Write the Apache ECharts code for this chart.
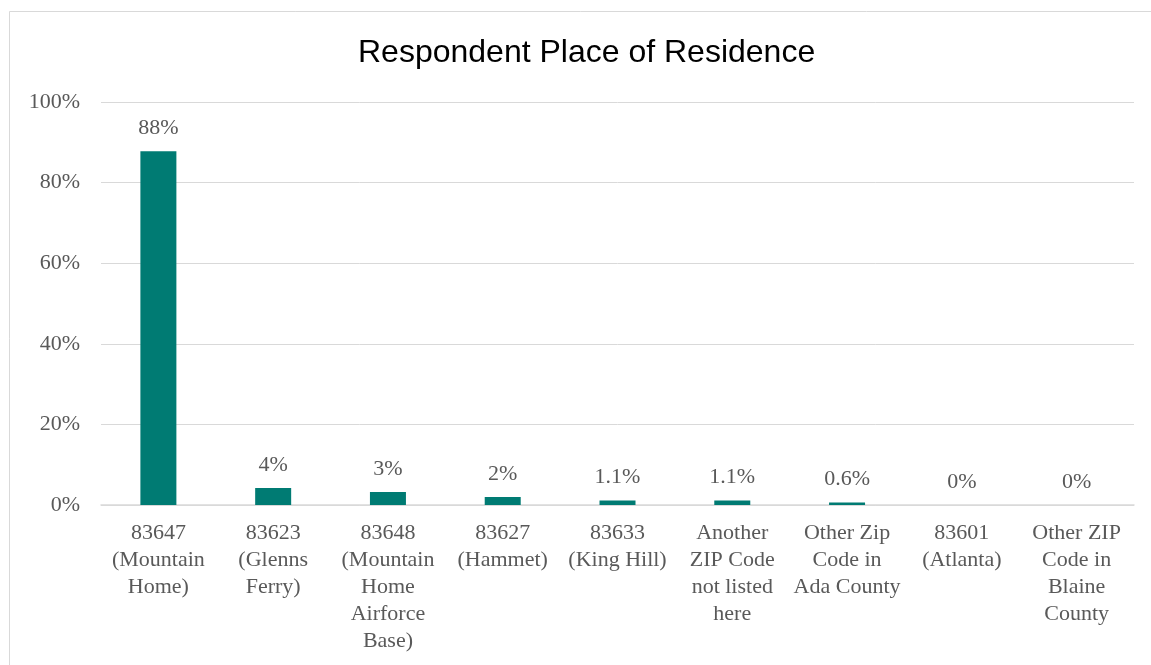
<!DOCTYPE html>
<html>
<head>
<meta charset="utf-8">
<script src="https://cdn.jsdelivr.net/npm/echarts@6/dist/echarts.min.js"></script>
<style>
html,body{margin:0;padding:0;background:#fff;}
#chart{width:1151px;height:665px;}
</style>
</head>
<body>
<div id="chart"></div>
<script>
const titleText = 'Respondent Place of Residence';
const categories = [
  '83647\n(Mountain\nHome)',
  '83623\n(Glenns\nFerry)',
  '83648\n(Mountain\nHome\nAirforce\nBase)',
  '83627\n(Hammet)',
  '83633\n(King Hill)',
  'Another\nZIP Code\nnot listed\nhere',
  'Other Zip\nCode in\nAda County',
  '83601\n(Atlanta)',
  'Other ZIP\nCode in\nBlaine\nCounty'
];
const values = [87.8, 4.2, 3.2, 2.0, 1.1, 1.1, 0.6, 0, 0];
const yTicks = [0, 20, 40, 60, 80, 100];

function fmtPct(v) {
  if (v === 0) return '0%';
  if (v >= 2) return Math.round(v) + '%';
  return v.toFixed(1) + '%';
}

const chart = echarts.init(document.getElementById('chart'));
const serif = '"Liberation Serif", "DejaVu Serif", serif';
chart.setOption({
  animation: false,
  backgroundColor: '#ffffff',
  graphic: [{
    type: 'rect',
    shape: { x: 9.5, y: 11.5, width: 1200, height: 700 },
    style: { fill: 'none', stroke: '#d9d9d9', lineWidth: 1 },
    silent: true
  }],
  title: {
    text: titleText,
    left: 353,
    top: 32,
    textStyle: { fontFamily: '"Liberation Sans", Arial, sans-serif', fontSize: 32, fontWeight: 'normal', color: '#000000' }
  },
  grid: { left: 101, right: 17, top: 102, bottom: 160, containLabel: false },
  xAxis: {
    type: 'category',
    data: categories,
    axisLine: { lineStyle: { color: '#d9d9d9', width: 1.5 } },
    axisTick: { show: false },
    axisLabel: {
      interval: 0,
      margin: 15,
      color: '#595959',
      fontFamily: serif,
      fontSize: 22,
      lineHeight: 27
    }
  },
  yAxis: {
    type: 'value',
    min: yTicks[0],
    max: yTicks[yTicks.length - 1],
    interval: 20,
    axisLine: { show: false },
    axisTick: { show: false },
    splitLine: { lineStyle: { color: '#d9d9d9', width: 1 } },
    axisLabel: {
      margin: 21,
      color: '#595959',
      fontFamily: serif,
      fontSize: 22,
      formatter: v => v + '%'
    }
  },
  series: [{
    type: 'bar',
    data: values,
    barWidth: 36,
    itemStyle: { color: '#007B73' },
    label: {
      show: true,
      position: 'top',
      distance: 12,
      color: '#595959',
      fontFamily: serif,
      fontSize: 22,
      formatter: p => fmtPct(p.value)
    }
  }]
});
</script>
</body>
</html>
